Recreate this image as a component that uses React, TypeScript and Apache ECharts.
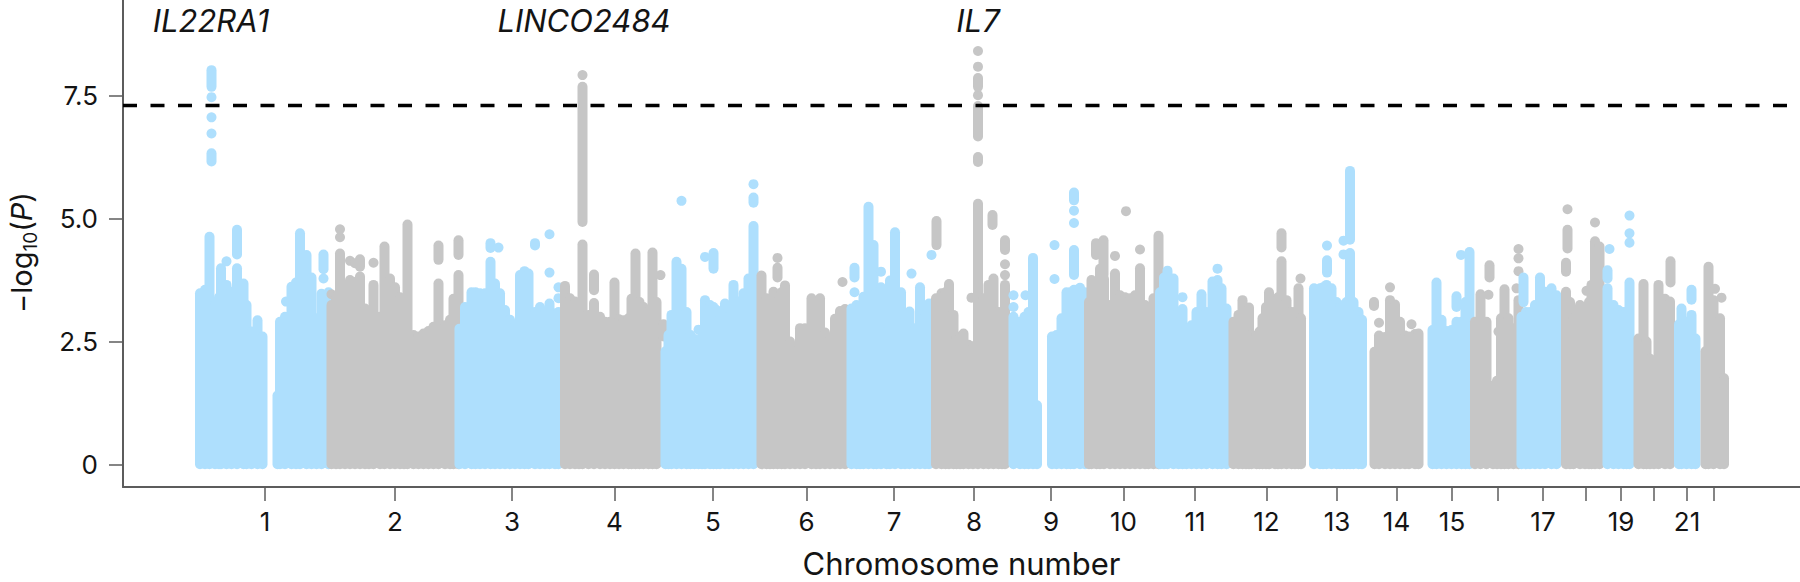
import React, { useEffect, useRef } from "react";
import * as echarts from "echarts";

// Each mark is [genome position, lowest -log10(P), highest -log10(P)]
const chr1 = [[12,0,3.48],[22,0,3.55],[31,0,4.63],[35,7.68,8.02],[35,7.47,7.47],[35,7.06,7.06],[35,6.73,6.73],[35,6.16,6.33],[42,0,3.24],[50,0,3.4],[54,0,3.99],[65,0,3.65],[65,4.13,4.13],[75,0,3.51],[86,0,3.99],[86,4.27,4.77],[99,0,3.68],[105,0,3.24],[115,0,2.7],[127,0,2.93],[137,0,2.6],[167,0,1.4],[172,0,2.9],[182,0,3.0],[184,3.31,3.31],[195,0,3.61],[204,0,3.7],[212,0,4.7],[225,0,4.26],[235,0,3.8],[245,0,2.97],[255,0,3.47],[259,3.97,4.27],[259,3.78,3.78],[269,0,3.5]];
const chr2 = [[275,0,3.24],[275,3.46,3.46],[284,0,3.4],[292,0,4.29],[292,4.62,4.62],[292,4.78,4.78],[302,0,3.65],[312,0,3.75],[312,4.14,4.14],[322,0,3.71],[322,4.09,4.09],[332,0,3.82],[332,4.02,4.17],[342,0,3.17],[350,0,3.1],[359,0,3.65],[359,4.1,4.1],[372,0,3.0],[381,0,4.43],[392,0,3.78],[402,0,3.6],[412,0,3.4],[420,0,3.3],[427,0,4.88],[439,0,2.63],[449,0,2.6],[459,0,2.66],[469,0,2.71],[479,0,2.8],[489,0,3.68],[489,4.16,4.45],[502,0,2.83],[512,0,2.94],[519,0,3.37],[529,0,3.85],[529,4.26,4.56]];
const chr3 = [[531,0,2.76],[542,0,3.2],[555,0,3.5],[563,0,3.5],[572,0,3.48],[582,0,3.48],[593,0,4.12],[593,4.4,4.5],[602,0,3.68],[609,4.41,4.41],[612,0,3.48],[622,0,3.14],[632,0,2.94],[642,0,2.83],[652,0,3.85],[661,0,3.93],[669,0,3.88],[682,0,3.1],[682,4.45,4.5],[692,0,3.2],[702,0,3.1],[711,0,3.27],[711,3.9,3.9],[711,4.68,4.68],[722,0,3.07],[729,0,3.1],[729,3.38,3.38],[729,3.6,3.6]];
const chr4 = [[742,0,3.63],[752,0,3.38],[762,0,3.31],[770,0,3.2],[777,0,4.47],[777,4.93,7.68],[777,7.92,7.92],[789,0,3.04],[800,0,3.28],[800,3.54,3.86],[812,0,3.0],[822,0,2.9],[832,0,2.9],[841,0,3.7],[850,0,2.95],[859,0,2.93],[869,0,2.97],[875,0,3.37],[883,0,4.29],[891,0,3.3],[899,0,3.2],[909,0,3.1],[917,0,4.31],[925,0,3.3],[933,3.85,3.85],[939,2.6,2.85]];
const chr5 = [[943,0,2.3],[949,0,2.63],[955,0,3.04],[965,0,4.12],[975,0,3.98],[975,5.36,5.36],[985,0,3.1],[993,0,2.63],[1001,0,2.55],[1009,0,2.5],[1009,2.74,2.74],[1016,0,2.6],[1022,0,3.34],[1022,4.22,4.22],[1032,0,3.24],[1039,0,3.2],[1039,3.98,4.3],[1045,0,3.14],[1052,0,2.97],[1062,0,3.27],[1070,0,3.0],[1079,0,3.65],[1089,0,3.31],[1099,0,3.48],[1109,0,3.78],[1119,0,4.85],[1119,5.32,5.43],[1119,5.7,5.7]];
const chr6 = [[1135,0,3.84],[1145,0,3.38],[1152,0,3.3],[1159,0,3.51],[1167,0,3.3],[1167,3.8,4.0],[1167,4.2,4.2],[1175,0,3.5],[1182,0,3.64],[1192,0,2.5],[1202,0,2.29],[1212,0,2.77],[1222,0,2.77],[1235,0,3.38],[1244,0,3.0],[1252,0,3.38],[1262,0,2.68],[1272,0,2.56],[1282,0,2.96],[1292,0,3.12],[1297,3.71,3.71],[1302,0,3.16]];
const chr7 = [[1315,0,3.17],[1321,3.8,4.0],[1321,3.5,3.5],[1325,0,3.24],[1332,0,3.2],[1339,0,3.41],[1349,0,5.24],[1359,0,4.46],[1365,0,3.5],[1374,0,3.6],[1374,3.92,3.92],[1385,0,2.7],[1392,0,3.74],[1402,0,4.72],[1414,0,3.5],[1422,0,2.93],[1431,0,3.11],[1435,3.88,3.88],[1442,0,2.77],[1452,0,3.6],[1462,0,3.04],[1470,0,3.27],[1475,4.26,4.26]];
const chr8 = [[1484,0,3.38],[1485,4.46,4.95],[1495,0,3.48],[1503,0,3.5],[1510,0,3.67],[1519,0,3.04],[1525,0,2.56],[1532,0,2.6],[1539,0,2.66],[1549,0,2.43],[1555,3.39,3.39],[1558,0,2.4],[1568,0,5.3],[1568,6.15,6.25],[1568,6.67,7.29],[1568,7.51,7.51],[1568,7.68,7.86],[1568,8.09,8.09],[1568,8.41,8.41],[1579,0,3.38],[1589,0,3.65],[1597,4.87,5.07],[1599,0,3.78],[1609,0,3.1],[1616,0,3.1],[1622,0,3.65],[1622,3.85,3.85],[1622,4.07,4.07],[1622,4.36,4.56]];
const chr9 = [[1639,0,3.0],[1639,3.2,3.2],[1639,3.44,3.44],[1652,0,2.9],[1661,0,3.0],[1663,3.44,3.44],[1669,0,3.1],[1678,0,4.2],[1686,0,1.2],[1716,0,2.6],[1721,3.77,3.77],[1721,4.46,4.46],[1725,0,2.63],[1735,0,2.97],[1745,0,3.5],[1753,0,3.5],[1760,0,3.55],[1760,3.85,4.36],[1760,4.91,4.91],[1760,5.16,5.16],[1760,5.37,5.53],[1772,0,3.59],[1782,0,3.5]];
const chr10 = [[1790,0,3.3],[1795,0,3.75],[1804,4.26,4.5],[1805,0,3.51],[1812,0,3.98],[1819,3.85,4.56],[1820,0,3.77],[1832,0,3.24],[1842,0,3.88],[1842,4.24,4.24],[1852,0,3.44],[1862,0,3.4],[1864,5.15,5.15],[1872,0,3.38],[1882,0,3.44],[1892,0,3.99],[1892,4.37,4.37],[1902,0,3.24],[1909,0,2.9],[1919,0,3.38],[1929,0,4.65]];
const chr11 = [[1932,0,3.5],[1940,0,3.8],[1947,0,3.94],[1959,0,3.78],[1969,0,3.1],[1977,0,3.16],[1977,3.4,3.4],[1985,0,2.77],[1995,0,2.83],[2005,0,3.1],[2015,0,3.46],[2025,0,3.1],[2037,0,3.72],[2047,0,3.75],[2047,3.98,3.98],[2055,0,3.58],[2065,0,3.17]];
const chr12 = [[2079,0,2.9],[2089,0,3.04],[2097,0,3.34],[2104,0,3.0],[2110,0,3.19],[2115,0,2.63],[2125,0,2.62],[2131,0,2.7],[2137,0,2.97],[2144,0,3.2],[2150,0,3.5],[2162,0,3.1],[2168,0,3.4],[2175,0,4.13],[2175,4.41,4.7],[2185,0,3.34],[2195,0,3.1],[2202,0,3.1],[2209,0,3.58],[2213,3.78,3.78],[2214,0,2.97]];
const chr13 = [[2240,0,3.58],[2252,0,3.58],[2258,0,3.6],[2265,0,3.65],[2266,3.9,4.15],[2266,4.45,4.45],[2275,0,3.58],[2285,0,3.3],[2292,0,3.2],[2299,0,3.24],[2299,4.27,4.27],[2299,4.55,4.55],[2305,0,3.3],[2312,0,4.3],[2312,4.57,5.97],[2319,0,3.3],[2329,0,3.1],[2336,0,2.94]];
const chr14 = [[2360,3.22,3.3],[2361,0,2.29],[2370,0,2.62],[2370,2.88,2.88],[2382,0,2.59],[2392,0,3.34],[2392,3.6,3.6],[2402,0,3.25],[2412,0,2.9],[2422,0,2.62],[2430,0,2.6],[2435,2.85,2.85],[2442,0,2.65],[2449,0,2.66]];
const chr15 = [[2477,0,2.73],[2485,0,3.7],[2495,0,2.94],[2505,0,2.71],[2515,0,2.73],[2525,0,2.9],[2525,3.2,3.42],[2534,4.26,4.26],[2535,0,2.9],[2543,0,3.3],[2551,0,4.32]];
const chr16 = [[2562,0,2.9],[2573,0,3.46],[2585,0,2.9],[2589,3.45,3.45],[2591,3.8,4.05],[2598,0,1.6],[2606,0,1.7],[2609,2.7,2.7],[2614,0,2.97],[2621,0,3.56],[2629,0,2.97],[2639,0,2.77],[2645,3.58,3.58],[2649,0,3.34],[2649,3.93,3.93],[2649,4.19,4.19],[2649,4.38,4.38]];
const chr17 = [[2655,0,3.0],[2659,3.3,3.8],[2664,0,3.1],[2672,0,3.1],[2682,0,3.24],[2692,0,3.8],[2702,0,3.51],[2715,0,3.58],[2725,0,3.44]];
const chr18 = [[2744,0,3.51],[2744,3.92,4.1],[2747,4.39,4.77],[2747,5.19,5.19],[2752,0,3.3],[2759,0,2.97],[2772,0,3.24],[2782,0,3.1],[2785,3.53,3.53],[2790,0,3.3],[2795,0,3.65],[2802,0,4.54],[2802,4.92,4.92],[2811,0,4.43]];
const chr19 = [[2827,0,3.58],[2827,3.78,3.95],[2831,4.38,4.38],[2839,0,3.24],[2849,0,3.14],[2859,0,3.1],[2865,0,3.1],[2871,0,3.7],[2871,4.51,4.51],[2871,4.7,4.7],[2871,5.06,5.06]];
const chr20 = [[2889,0,2.56],[2899,0,3.67],[2905,0,2.5],[2912,0,2.15],[2920,0,2.1],[2929,0,3.65],[2942,0,3.37],[2952,0,3.31],[2953,3.7,4.13]];
const chr21 = [[2970,0,2.85],[2975,0,3.17],[2985,0,2.9],[2995,0,3.04],[2995,3.35,3.55],[3003,0,2.56]];
const chr22 = [[3023,0,2.3],[3029,0,4.02],[3039,0,3.34],[3042,3.57,3.57],[3052,0,2.97],[3055,3.39,3.39],[3060,0,1.75]];
const chromosomes = [chr1,chr2,chr3,chr4,chr5,chr6,chr7,chr8,chr9,chr10,chr11,chr12,chr13,chr14,chr15,chr16,chr17,chr18,chr19,chr20,chr21,chr22];

const tickPositions = [142,402,636,841,1038,1225,1400,1560,1714,1859,2002,2145,2286,2405,2516,2607,2698,2783,2854,2920,2986,3040];
const tickLabels = ["1","2","3","4","5","6","7","8","9","10","11","12","13","14","15","","17","","19","","21",""];
const yTicks = [0, 2.5, 5, 7.5];
const threshold = 7.3;
const geneNames = ["IL22RA1", "LINCO2484", "IL7"];
const genePositions = [34, 780, 1568];
const geneLabelHeight = 9.02;
const X_MIN = -142, X_MAX = 3212, Y_MIN = -0.462, Y_MAX = 9.447;

const BLUE = "#aedffd";
const GREY = "#c6c6c6";
const AXIS = "#5c5c5c";
const TEXT = "#141414";
const FONT = "Inter";

export default function App() {
  const ref = useRef<HTMLDivElement>(null);
  useEffect(() => {
    document.body.style.margin = "0";
    const chart = echarts.init(ref.current!, null, { renderer: "svg" });
    const chrSeries = chromosomes.map((data, i) => {
      const color = i % 2 === 0 ? BLUE : GREY;
      return {
        type: "custom",
        name: `chr${i + 1}`,
        silent: true,
        encode: { x: 0, y: [1, 2] },
        data,
        renderItem: (_: any, api: any) => {
          const p1 = api.coord([api.value(0), api.value(1)]);
          const p2 = api.coord([api.value(0), api.value(2)]);
          if (api.value(1) === api.value(2)) {
            return { type: "circle", shape: { cx: p1[0], cy: p1[1], r: 5 }, style: { fill: color } };
          }
          return {
            type: "line",
            shape: { x1: p1[0], y1: p1[1], x2: p2[0], y2: p2[1] },
            style: { stroke: color, lineWidth: 10, lineCap: "round", fill: null },
          };
        },
      };
    });
    chart.setOption({
      animation: false,
      backgroundColor: "#ffffff",
      grid: { left: 123, right: 0, top: 0, height: 487, outerBoundsMode: "none" },
      xAxis: {
        type: "value",
        min: X_MIN,
        max: X_MAX,
        name: "Chromosome number",
        nameLocation: "middle",
        nameGap: 61,
        nameTextStyle: { fontFamily: FONT, fontSize: 31, color: TEXT },
        splitLine: { show: false },
        axisLine: { onZero: false, lineStyle: { color: AXIS, width: 2 } },
        axisTick: { customValues: tickPositions, length: 14, lineStyle: { color: AXIS, width: 1.5 } },
        axisLabel: {
          customValues: tickPositions,
          margin: 21,
          fontFamily: FONT,
          fontSize: 26,
          color: TEXT,
          formatter: (v: number) => tickLabels[tickPositions.indexOf(v)] ?? "",
        },
      },
      yAxis: {
        type: "value",
        min: Y_MIN,
        max: Y_MAX,
        name: "{n|−log}{s|10}{n|(}{i|P}{n|)}",
        nameLocation: "middle",
        nameRotate: 90,
        nameGap: 83,
        nameTextStyle: {
          padding: [0, 18, 0, 0],
          rich: {
            n: { fontFamily: FONT, fontSize: 29, color: TEXT, lineHeight: 38 },
            i: { fontFamily: FONT, fontSize: 29, color: TEXT, fontStyle: "italic", lineHeight: 38 },
            s: { fontFamily: FONT, fontSize: 19, color: TEXT, verticalAlign: "bottom", lineHeight: 22 },
          },
        },
        splitLine: { show: false },
        axisLine: { onZero: false, lineStyle: { color: AXIS, width: 2 } },
        axisTick: { customValues: yTicks, length: 14, lineStyle: { color: AXIS, width: 1.5 } },
        axisLabel: {
          customValues: yTicks,
          margin: 25,
          fontFamily: FONT,
          fontSize: 26,
          color: TEXT,
          formatter: (v: number) => (v === 0 ? "0" : v.toFixed(1)),
        },
      },
      series: [
        ...chrSeries,
        {
          type: "line",
          name: "Genome-wide significance",
          silent: true,
          symbol: "none",
          z: 5,
          data: [[X_MIN, threshold], [X_MAX, threshold]],
          lineStyle: { color: "#000000", width: 3.5, type: [14, 13.5] },
        },
        {
          type: "scatter",
          name: "Genes",
          silent: true,
          symbolSize: 1,
          z: 6,
          itemStyle: { color: "transparent", opacity: 1 },
          data: geneNames.map((g, i) => ({ value: [genePositions[i], geneLabelHeight], name: g })),
          label: {
            show: true,
            position: "inside",
            formatter: "{b}",
            fontFamily: FONT,
            fontStyle: "italic",
            fontSize: 31,
            color: TEXT,
          },
        },
      ],
    });
    return () => chart.dispose();
  }, []);
  return <div ref={ref} style={{ width: 1800, height: 582 }} />;
}
